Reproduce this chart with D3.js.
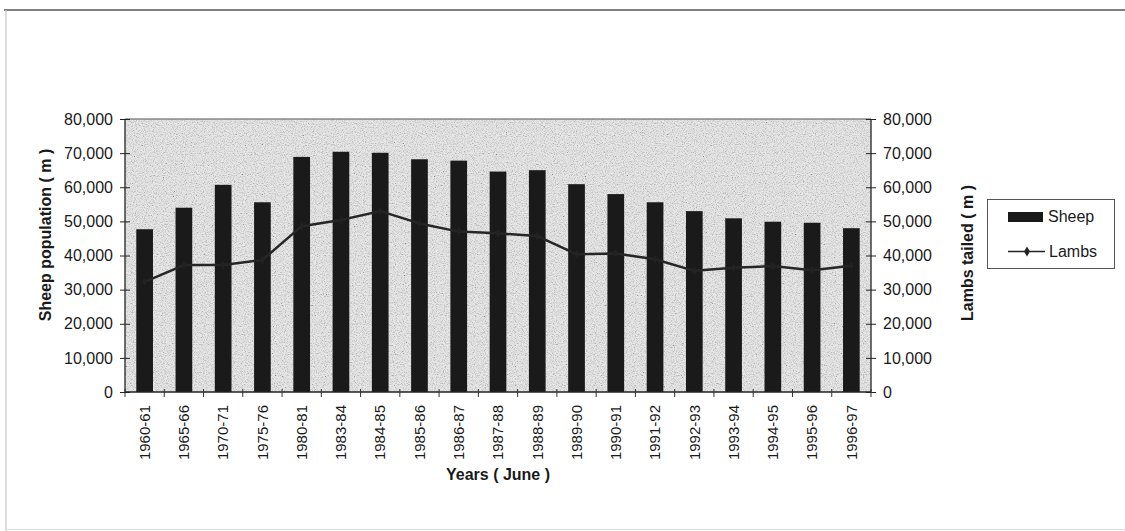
<!DOCTYPE html>
<html>
<head>
<meta charset="utf-8">
<script src="https://cdn.jsdelivr.net/npm/d3@7"></script>
<style>
  html, body { margin: 0; padding: 0; background: #fff; }
  svg { display: block; font-family: "Liberation Sans", Arial, sans-serif; }
</style>
</head>
<body>
<svg id="chart" width="1125" height="531"></svg>
<script>
// Years ending June
const years = ["1960-61","1965-66","1970-71","1975-76","1980-81","1983-84","1984-85","1985-86","1986-87","1987-88","1988-89","1989-90","1990-91","1991-92","1992-93","1993-94","1994-95","1995-96","1996-97"];
// Sheep population (bars, left axis)
const sheep = [47700, 54000, 60700, 55600, 68900, 70400, 70100, 68200, 67800, 64600, 65000, 60900, 58000, 55600, 53000, 50900, 49900, 49600, 48000];
// Lambs tailed (line, right axis)
const lambs = [32300, 37200, 37200, 38700, 48600, 50400, 53000, 49400, 47000, 46500, 45700, 40400, 40600, 38900, 35500, 36400, 36900, 35700, 37000];
// Tick values shared by both value axes
const valueTicks = [0, 10000, 20000, 30000, 40000, 50000, 60000, 70000, 80000];

const svg = d3.select("#chart");
const plot = { left: 125, right: 871, top: 119, bottom: 392 };

// Outer frame
svg.append("line").attr("x1", 4).attr("x2", 1125).attr("y1", 10).attr("y2", 10)
  .attr("stroke", "#555").attr("stroke-width", 1.5);
svg.append("line").attr("x1", 6).attr("x2", 6).attr("y1", 10).attr("y2", 531)
  .attr("stroke", "#c4c4c4").attr("stroke-width", 1.2);
svg.append("line").attr("x1", 6).attr("x2", 1125).attr("y1", 529.5).attr("y2", 529.5)
  .attr("stroke", "#dcdcdc").attr("stroke-width", 1);

// Grainy grey texture for the plot area
const defs = svg.append("defs");
const grain = defs.append("filter").attr("id", "grain")
  .attr("x", 0).attr("y", 0).attr("width", "100%").attr("height", "100%");
grain.append("feTurbulence").attr("type", "fractalNoise")
  .attr("baseFrequency", 0.9).attr("numOctaves", 2).attr("seed", 7).attr("result", "noise");
grain.append("feColorMatrix").attr("in", "noise").attr("type", "matrix")
  .attr("values", "2.2 0 0 0 -0.3  2.2 0 0 0 -0.3  2.2 0 0 0 -0.3  0 0 0 0 0.35");

const x = d3.scaleBand().domain(years).range([plot.left, plot.right])
  .paddingInner(0.575).paddingOuter(0.2875);
const step = x.step();
const yL = d3.scaleLinear().domain([0, 80000]).range([plot.bottom, plot.top]);
const yR = d3.scaleLinear().domain([0, 80000]).range([plot.bottom, plot.top]);

svg.append("rect").attr("x", plot.left).attr("y", plot.top)
  .attr("width", plot.right - plot.left).attr("height", plot.bottom - plot.top)
  .attr("fill", "#d9d9d9");
svg.append("rect").attr("x", plot.left).attr("y", plot.top)
  .attr("width", plot.right - plot.left).attr("height", plot.bottom - plot.top)
  .attr("fill", "#fff").attr("filter", "url(#grain)");

// Top border of plot area
svg.append("line").attr("x1", plot.left).attr("x2", plot.right)
  .attr("y1", plot.top).attr("y2", plot.top)
  .attr("stroke", "#555").attr("stroke-width", 1.2);

// Bars
svg.append("g").selectAll("rect").data(years).join("rect")
  .attr("x", d => x(d))
  .attr("y", (d, i) => yL(sheep[i]))
  .attr("width", x.bandwidth())
  .attr("height", (d, i) => yL(0) - yL(sheep[i]))
  .attr("fill", "#1a1a1a");

// Lambs line
const line = d3.line()
  .x((d, i) => x(years[i]) + x.bandwidth() / 2)
  .y(d => yR(d));
svg.append("path").datum(lambs).attr("d", line)
  .attr("fill", "none").attr("stroke", "#262626").attr("stroke-width", 2.5)
  .attr("stroke-linejoin", "round");
svg.append("g").selectAll("path").data(lambs).join("path")
  .attr("d", d3.symbol(d3.symbolDiamond, 22))
  .attr("transform", (d, i) => `translate(${x(years[i]) + x.bandwidth() / 2},${yR(d)})`)
  .attr("fill", "#222");

const fmt = d3.format(",");

// Left axis
const gL = svg.append("g").attr("transform", `translate(${plot.left},0)`)
  .call(d3.axisLeft(yL).tickValues(valueTicks).tickFormat(fmt).tickSize(5).tickPadding(7));
gL.select(".domain").attr("stroke", "#222").attr("stroke-width", 1.3).attr("d", `M0,${plot.top}V${plot.bottom}`);
gL.selectAll(".tick line").attr("stroke", "#222").attr("x1", 5);
gL.selectAll(".tick text").attr("font-size", 16).attr("fill", "#1a1a1a")
  .attr("font-family", "'Liberation Sans', Arial, sans-serif");

// Right axis
const gR = svg.append("g").attr("transform", `translate(${plot.right},0)`)
  .call(d3.axisRight(yR).tickValues(valueTicks).tickFormat(fmt).tickSize(5).tickPadding(7));
gR.select(".domain").attr("stroke", "#222").attr("stroke-width", 1.3).attr("d", `M0,${plot.top}V${plot.bottom}`);
gR.selectAll(".tick line").attr("stroke", "#222").attr("x1", -5);
gR.selectAll(".tick text").attr("font-size", 16).attr("fill", "#1a1a1a")
  .attr("font-family", "'Liberation Sans', Arial, sans-serif");

// Category axis: line, boundary ticks, rotated labels
const gX = svg.append("g");
gX.append("line").attr("x1", plot.left).attr("x2", plot.right)
  .attr("y1", plot.bottom).attr("y2", plot.bottom)
  .attr("stroke", "#222").attr("stroke-width", 1.3);
const bounds = years.map(d => x(d) + x.bandwidth() / 2 - step / 2).concat([plot.right]);
gX.selectAll("line.tk").data(bounds).join("line").attr("class", "tk")
  .attr("x1", d => d).attr("x2", d => d)
  .attr("y1", plot.bottom - 3).attr("y2", plot.bottom + 5)
  .attr("stroke", "#333").attr("stroke-width", 1);
gX.selectAll("text").data(years).join("text")
  .attr("transform", d => `translate(${x(d) + x.bandwidth() / 2},405) rotate(-90)`)
  .attr("text-anchor", "end").attr("dy", "0.35em")
  .attr("font-size", 15).attr("fill", "#1a1a1a")
  .text(d => d);

// Axis titles
svg.append("text").attr("transform", "translate(45,235) rotate(-90)")
  .attr("text-anchor", "middle").attr("dy", "0.35em")
  .attr("font-size", 16).attr("font-weight", "bold").attr("fill", "#1a1a1a")
  .text("Sheep population ( m )");
svg.append("text").attr("transform", "translate(967,253) rotate(-90)")
  .attr("text-anchor", "middle").attr("dy", "0.35em")
  .attr("font-size", 16).attr("font-weight", "bold").attr("fill", "#1a1a1a")
  .text("Lambs tailed ( m )");
svg.append("text").attr("x", (plot.left + plot.right) / 2).attr("y", 480)
  .attr("text-anchor", "middle")
  .attr("font-size", 16).attr("font-weight", "bold").attr("fill", "#1a1a1a")
  .text("Years ( June )");

// Legend
const lg = svg.append("g");
lg.append("rect").attr("x", 987.5).attr("y", 199.5).attr("width", 127).attr("height", 69)
  .attr("fill", "#fff").attr("stroke", "#555").attr("stroke-width", 1);
lg.append("rect").attr("x", 1008).attr("y", 212).attr("width", 35).attr("height", 10)
  .attr("fill", "#1a1a1a");
lg.append("text").attr("x", 1048).attr("y", 222).attr("font-size", 16).attr("fill", "#1a1a1a").text("Sheep");
lg.append("line").attr("x1", 1008).attr("x2", 1045).attr("y1", 251.5).attr("y2", 251.5)
  .attr("stroke", "#222").attr("stroke-width", 1.5);
lg.append("path").attr("d", d3.symbol(d3.symbolDiamond, 30))
  .attr("transform", "translate(1027,251.5)").attr("fill", "#222");
lg.append("text").attr("x", 1049).attr("y", 257).attr("font-size", 16).attr("fill", "#1a1a1a").text("Lambs");
</script>
</body>
</html>
